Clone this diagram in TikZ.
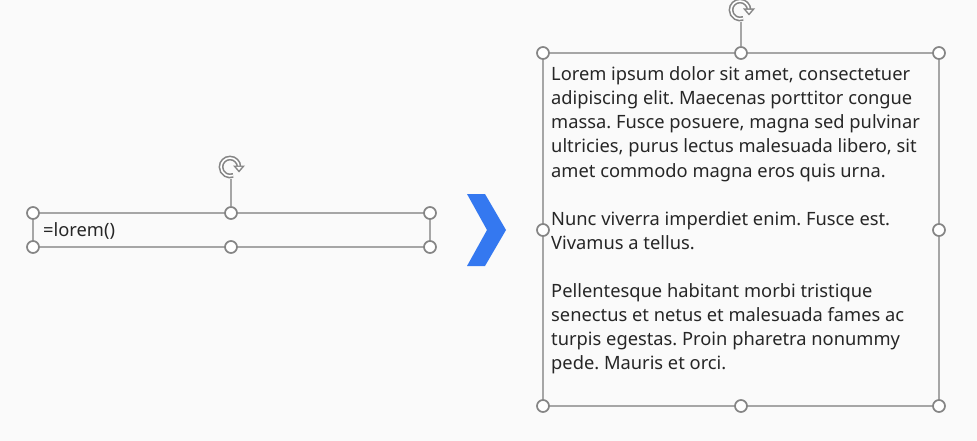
\documentclass[tikz,border=0pt]{standalone}
\usepackage{fontspec}
\setmainfont{Noto Sans}
\definecolor{framec}{HTML}{A6A6A6}
\definecolor{handlec}{HTML}{858585}
\definecolor{chevc}{HTML}{3478F0}
\definecolor{bgc}{HTML}{FAFAFA}
\begin{document}
\begin{tikzpicture}[x=1pt,y=-1pt,
  frame/.style={draw=framec,line width=1.1pt},
  handle/.style={circle,draw=handlec,fill=white,line width=1.7pt,minimum size=12pt,inner sep=0pt},
  rotline/.style={draw=framec,line width=1.1pt},
  bodytext/.style={font=\fontsize{18.3}{24.1}\selectfont\frenchspacing,text=black!85,align=left,inner sep=0pt},
  rotico/.pic={
    \begin{scope}[yscale=-1]
    \draw[handlec,line width=4.8pt] (0:9) arc[start angle=0,end angle=290,radius=9];
    \draw[white,line width=1.6pt] (0:9) arc[start angle=0,end angle=290,radius=9];
    \fill[handlec,line join=round] (3,1.5) -- (15,1.5) -- (9,-5.5) -- cycle;
    \fill[white] (6.1,0.2) -- (11.9,0.2) -- (9,-3.2) -- cycle;
    \end{scope}
  }
]
\fill[bgc] (0,0) rectangle (977,441);
\useasboundingbox (0,0) rectangle (977,441);

% left text box
\coordinate (l1) at (33,213); \coordinate (l2) at (430,247);
\draw[frame] (l1) rectangle (l2);
\node[anchor=west,font=\fontsize{18.3}{20}\selectfont,text=black!85,inner sep=0pt] (ltext) at (43,231) {=lorem()};
\coordinate (lrot) at (231,179);
\node[handle] (lt) at (231,213) {};
\draw[rotline] (lrot) -- (lt);
\pic at (230,167) {rotico};
\node[handle] (ltl) at (33,213) {};
\node[handle] (ltr) at (430,213) {};
\node[handle] (lbl) at (33,247) {};
\node[handle] (lb) at (231,247) {};
\node[handle] (lbr) at (430,247) {};

% chevron
\fill[chevc] (467,194) -- (485,194) -- (506,230) -- (485,266) -- (467,266) -- (487,230) -- cycle;

% right text box
\coordinate (r1) at (543,53); \coordinate (r2) at (939,406);
\draw[frame] (r1) rectangle (r2);
\coordinate (rrot) at (741,22);
\node[handle] (rt) at (741,53) {};
\draw[rotline] (rrot) -- (rt);
\pic at (740,10) {rotico};
\node[handle] (rtl) at (543,53) {};
\node[handle] (rtr) at (939,53) {};
\node[handle] (rml) at (543,230) {};
\node[handle] (rmr) at (939,230) {};
\node[handle] (rbl) at (543,406) {};
\node[handle] (rb) at (741,406) {};
\node[handle] (rbr) at (939,406) {};

\node[bodytext,anchor=north west] (rtext) at (551,66.5) {Lorem ipsum dolor sit amet, consectetuer\\
adipiscing elit. Maecenas porttitor congue\\
massa. Fusce posuere, magna sed pulvinar\\
ultricies, purus lectus malesuada libero, sit\\
amet commodo magna eros quis urna.\\[24.1pt]
Nunc viverra imperdiet enim. Fusce est.\\
Vivamus a tellus.\\[24.1pt]
Pellentesque habitant morbi tristique\\
senectus et netus et malesuada fames ac\\
turpis egestas. Proin pharetra nonummy\\
pede. Mauris et orci.};
\end{tikzpicture}
\end{document}
